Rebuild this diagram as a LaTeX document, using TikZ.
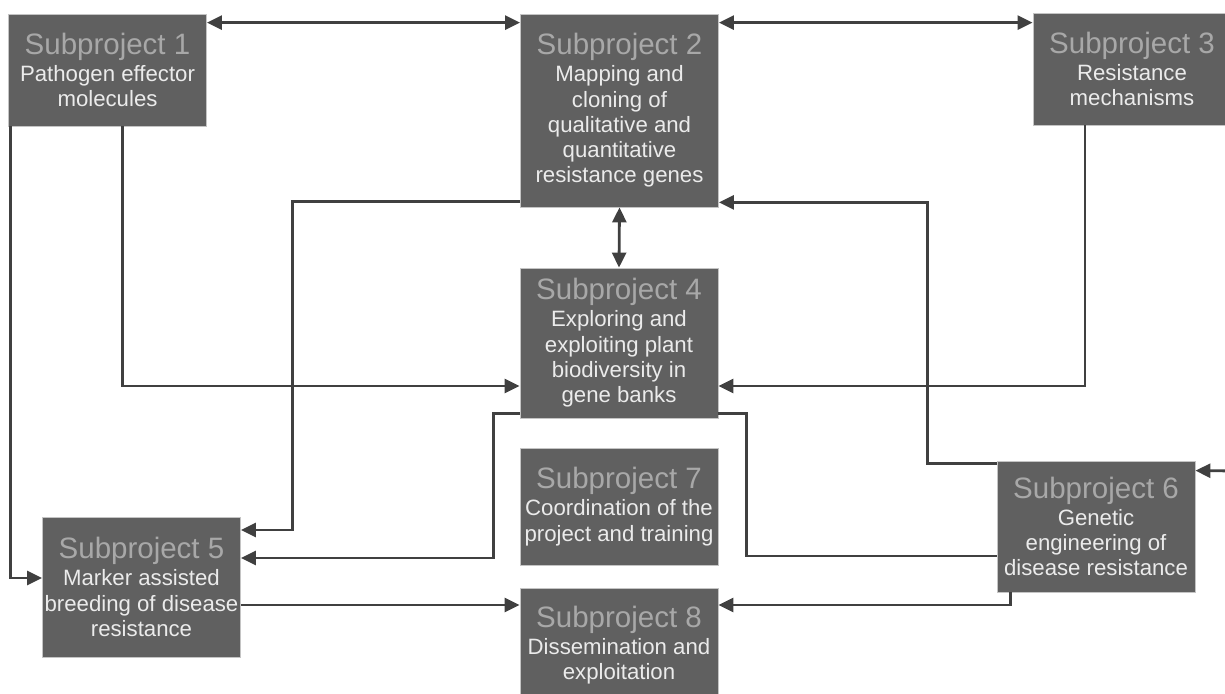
\documentclass[tikz,border=0pt]{standalone}
\usepackage{fontspec}
\setmainfont{Liberation Sans}
\usetikzlibrary{arrows.meta}
\definecolor{boxgray}{HTML}{606060}
\definecolor{edgegray}{HTML}{C4C4C4}
\definecolor{titlegray}{HTML}{A8A8A8}
\definecolor{textwhite}{HTML}{EBEBEB}
\definecolor{linkgray}{HTML}{404040}
\newcommand{\sptitle}[1]{{\color{titlegray}\fontsize{29.5}{30}\selectfont Subproject #1}}
\tikzset{
  project box/.style={
    fill=boxgray,
    draw=edgegray,
    line width=0.8pt,
    inner sep=0pt,
    minimum width=198pt,
    minimum height=#1,
    align=center,
    text=textwhite,
    font=\fontsize{22.2}{25.3}\selectfont,
  },
  plain link/.style={
    draw=linkgray,
    line width=2.8pt,
  },
  link/.style={
    plain link,
    -{Triangle[length=15pt,width=14pt]},
  },
  both link/.style={
    plain link,
    {Triangle[length=15pt,width=14pt]}-{Triangle[length=15pt,width=14pt]},
  }
}

\begin{document}
\begin{tikzpicture}[x=1pt,y=-1pt]
        \useasboundingbox (0,0) rectangle (1225,693);

        \node [project box=112pt] (sp1) at (107.5,70) {\sptitle{1}\\[1.7pt]Pathogen effector\\molecules};
        \node [project box=193pt] (sp2) at (619.5,110.5) {\sptitle{2}\\[1.7pt]Mapping and\\cloning of\\qualitative and\\quantitative\\resistance genes};
        \node [project box=112pt] (sp3) at (1132,69) {\sptitle{3}\\[1.7pt]Resistance\\mechanisms};
        \node [project box=150pt] (sp4) at (619,343) {\sptitle{4}\\[1.7pt]Exploring and\\exploiting plant\\biodiversity in\\gene banks};
        \node [project box=140pt] (sp5) at (141.5,587) {\sptitle{5}\\[1.7pt]Marker assisted\\breeding of disease\\resistance};
        \node [project box=131pt] (sp6) at (1096,526.5) {\sptitle{6}\\[1.7pt]Genetic\\engineering of\\disease resistance};
        \node [project box=117pt] (sp7) at (619,506.5) {\sptitle{7}\\[1.7pt]Coordination of the\\project and training};
        \node [project box=114pt] (sp8) at (619,645) {\sptitle{8}\\[1.7pt]Dissemination and\\exploitation};
        \coordinate (in6) at (1240,471);

        \draw [both link] ([yshift=-9pt]sp1.north east) -- ([yshift=-9pt]sp2.north west);
        \draw [both link] ([yshift=-9pt]sp2.north east) -- ([yshift=-10pt]sp3.north west);
        \draw [both link] (sp2.south) -- (sp4.north);

        \draw [link] ([xshift=15pt]sp1.south) |- ([yshift=-43pt]sp4.west);
        \draw [link] ([xshift=-47pt]sp3.south) |- ([yshift=-43pt]sp4.east);
        \draw [link] ([xshift=2pt]sp1.south west) |- ([yshift=9pt]sp5.west);
        \draw [link] ([yshift=6pt]sp2.south west) -- ++(-228,0) |- ([yshift=57pt]sp5.east);
        \draw [link] ([yshift=5pt]sp4.south west) -- ++(-26,0) |- ([yshift=29pt]sp5.east);
        \draw [plain link] ([yshift=5pt]sp4.south east) -- ++(28,0) |- ([yshift=-29.5pt]sp6.west);
        \draw [link] ([yshift=-3pt]sp6.north west) -- ++(-69,0) |- ([yshift=5pt]sp2.south east);
        \draw [link] (in6) -- ([yshift=-10pt]sp6.north east);
        \draw [link] ([yshift=-18pt]sp5.east) -- ([yshift=40pt]sp8.west);
        \draw [link] ([xshift=14pt]sp6.south west) |- ([yshift=40pt]sp8.east);
    \end{tikzpicture}
\end{document}
